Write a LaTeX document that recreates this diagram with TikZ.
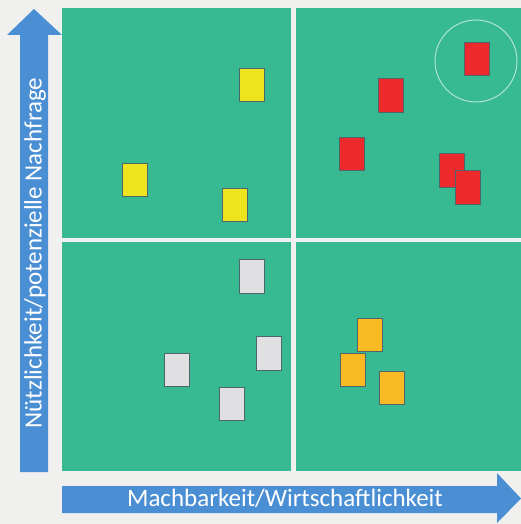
\documentclass[tikz,border=0pt]{standalone}
\usepackage{fontspec}
\setmainfont{Carlito}
\definecolor{bgc}{RGB}{240,240,238}
\definecolor{quad}{RGB}{55,186,146}
\definecolor{arrowc}{RGB}{74,143,212}
\definecolor{cardline}{RGB}{80,100,110}
\definecolor{cyellow}{RGB}{238,228,30}
\definecolor{cred}{RGB}{236,42,44}
\definecolor{cgray}{RGB}{224,224,226}
\definecolor{corange}{RGB}{250,186,36}
\tikzset{
  quadrant/.style={fill=quad, draw=none},
  card/.style={draw=cardline, line width=0.7pt, minimum width=25pt, minimum height=33.5pt, inner sep=0pt},
  axisarrow/.style={fill=arrowc, draw=none},
  axislabel/.style={text=white, font=\fontsize{25}{30}\selectfont, inner sep=0pt}
}
\begin{document}
\begin{tikzpicture}[x=1pt,y=-1pt]
\fill[bgc] (0,0) rectangle (521,524);
\useasboundingbox (0,0) rectangle (521,524);
% quadrants
\fill[quadrant] (62,8) rectangle (291,238);
\fill[quadrant] (296,8) rectangle (521,238);
\fill[quadrant] (62,242) rectangle (291,471);
\fill[quadrant] (296,242) rectangle (521,471);
% axis arrows
\fill[axisarrow] (20,472) -- (20,35) -- (7,35) -- (34,9) -- (62,35) -- (48,35) -- (48,472) -- cycle;
\fill[axisarrow] (62,486) -- (497,486) -- (497,473) -- (521,498.5) -- (497,523) -- (497,513) -- (62,513) -- cycle;
\node[axislabel, rotate=90] (ylab) at (35,253) {Nützlichkeit/potenzielle Nachfrage};
\node[axislabel] (xlab) at (285,498) {Machbarkeit/Wirtschaftlichkeit};
% highlight circle
\node[draw=white, draw opacity=0.6, line width=1pt, circle, minimum size=82pt, inner sep=0pt] (ring) at (476,61) {};
% yellow
\node[card, fill=cyellow] (y1) at (251.5,85) {};
\node[card, fill=cyellow] (y2) at (134.5,180) {};
\node[card, fill=cyellow] (y3) at (234.5,205) {};
% red
\node[card, fill=cred] (r1) at (476.5,59) {};
\node[card, fill=cred] (r2) at (390.5,95.5) {};
\node[card, fill=cred] (r3) at (351.5,154) {};
\node[card, fill=cred] (r4) at (451.5,170.5) {};
\node[card, fill=cred] (r5) at (468,187.5) {};
% gray
\node[card, fill=cgray] (g1) at (251.5,276.5) {};
\node[card, fill=cgray] (g2) at (177,370) {};
\node[card, fill=cgray] (g3) at (268.5,353.5) {};
\node[card, fill=cgray] (g4) at (232,404) {};
% orange
\node[card, fill=corange] (o1) at (369.5,335) {};
\node[card, fill=corange] (o2) at (352.5,370) {};
\node[card, fill=corange] (o3) at (391.5,388) {};
\end{tikzpicture}
\end{document}
